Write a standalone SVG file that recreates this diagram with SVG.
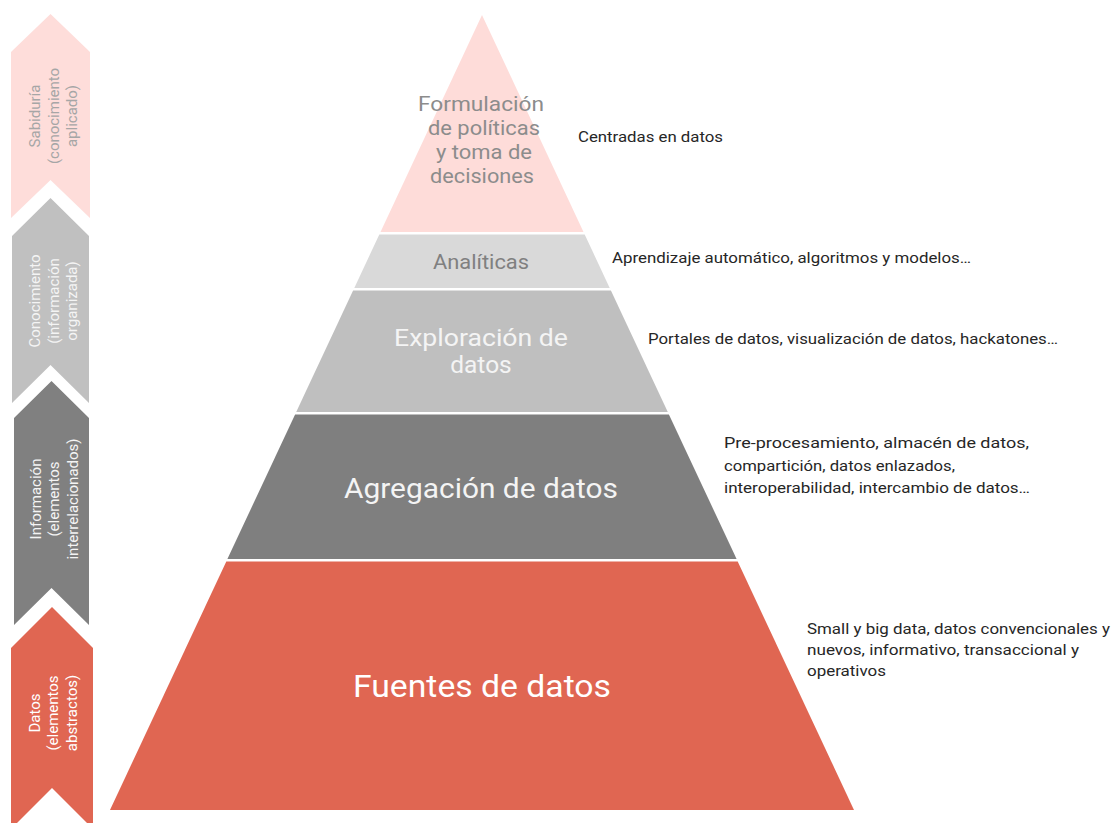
<svg xmlns="http://www.w3.org/2000/svg" width="1113" height="823" viewBox="0 0 1113 823">
<style>
text { font-family: Roboto, "Liberation Sans", sans-serif; }
.lbl { font-size: 15px; text-anchor: middle; }
.pyr { text-anchor: middle; }
.note { font-size: 15.5px; fill: #262626; }
</style>
<rect width="1113" height="823" fill="#ffffff"/>
<g id="levels">
  <g id="level-sabiduria">
    <polygon points="11,52 50.5,14 90,52 90,218 50.5,180 11,218" fill="#FEDDDA"/>
    <text class="lbl" fill="#A6A6A6" transform="translate(0,116) rotate(-90)"><tspan x="0" y="40">Sabiduría</tspan><tspan x="0" y="58.5">(conocimiento</tspan><tspan x="0" y="77">aplicado)</tspan></text>
  </g>
  <g id="level-conocimiento">
    <polygon points="12,236 50.5,198 89,236 89,403 50.5,365 12,403" fill="#C0C0C0"/>
    <text class="lbl" fill="#F4F4F4" transform="translate(0,301) rotate(-90)"><tspan x="0" y="40">Conocimiento</tspan><tspan x="0" y="58.5">(información</tspan><tspan x="0" y="77">organizada)</tspan></text>
  </g>
  <g id="level-informacion">
    <polygon points="14,418 51.5,381 89,418 89,625 51.5,588 14,625" fill="#808080"/>
    <text class="lbl" fill="#F4F4F4" transform="translate(0,499) rotate(-90)"><tspan x="0" y="41">Información</tspan><tspan x="0" y="59">(elementos</tspan><tspan x="0" y="77.5">interrelacionados)</tspan></text>
  </g>
  <g id="level-datos">
    <polygon points="11,648 52,607 93,648 93,829 52,788 11,829" fill="#E06652"/>
    <text class="lbl" fill="#FFFFFF" transform="translate(0,713) rotate(-90)"><tspan x="0" y="39.5">Datos</tspan><tspan x="0" y="58">(elementos</tspan><tspan x="0" y="76.5">abstractos)</tspan></text>
  </g>
</g>
<g id="pyramid">
  <g id="layer-formulacion">
    <polygon points="482,15 583.5,232 380.5,232" fill="#FEDCD9"/>
    <text class="pyr" fill="#8C8C8C" font-size="20.5"><tspan x="481" y="111" textLength="126" lengthAdjust="spacingAndGlyphs">Formulación</tspan><tspan x="484" y="135" textLength="112" lengthAdjust="spacingAndGlyphs">de políticas</tspan><tspan x="484" y="159" textLength="96" lengthAdjust="spacingAndGlyphs">y toma de</tspan><tspan x="482" y="183" textLength="104" lengthAdjust="spacingAndGlyphs">decisiones</tspan></text>
  </g>
  <g id="layer-analiticas">
    <polygon points="379.3,234.5 584.7,234.5 609.7,288 354.3,288" fill="#D9D9D9"/>
    <text class="pyr" fill="#808080" font-size="20.5" x="481" y="269" textLength="96" lengthAdjust="spacingAndGlyphs">Analíticas</text>
  </g>
  <g id="layer-exploracion">
    <polygon points="353.1,290.5 610.9,290.5 667.8,412 296.2,412" fill="#BFBFBF"/>
    <text class="pyr" fill="#F4F4F4" font-size="24.5"><tspan x="481" y="346" textLength="174" lengthAdjust="spacingAndGlyphs">Exploración de</tspan><tspan x="481" y="373">datos</tspan></text>
  </g>
  <g id="layer-agregacion">
    <polygon points="295.1,414.5 668.9,414.5 736.6,559 227.4,559" fill="#7F7F7F"/>
    <text class="pyr" fill="#F4F4F4" font-size="28" x="481" y="498" textLength="274" lengthAdjust="spacingAndGlyphs">Agregación de datos</text>
  </g>
  <g id="layer-fuentes">
    <polygon points="226.3,561.5 737.7,561.5 854,810 110,810" fill="#E06652"/>
    <text class="pyr" fill="#FFFFFF" font-size="31" x="482" y="697" textLength="258" lengthAdjust="spacingAndGlyphs">Fuentes de datos</text>
  </g>
</g>
<g id="notes">
  <text class="note" x="578" y="142" textLength="145" lengthAdjust="spacingAndGlyphs">Centradas en datos</text>
  <text class="note" x="612" y="263" textLength="359" lengthAdjust="spacingAndGlyphs">Aprendizaje automático, algoritmos y modelos…</text>
  <text class="note" x="648" y="344" textLength="410" lengthAdjust="spacingAndGlyphs">Portales de datos, visualización de datos, hackatones…</text>
  <text class="note"><tspan x="724" y="448" textLength="305" lengthAdjust="spacingAndGlyphs">Pre-procesamiento, almacén de datos,</tspan><tspan x="724" y="470.5" textLength="231" lengthAdjust="spacingAndGlyphs">compartición, datos enlazados,</tspan><tspan x="724" y="493" textLength="306" lengthAdjust="spacingAndGlyphs">interoperabilidad, intercambio de datos…</tspan></text>
  <text class="note"><tspan x="807" y="634" textLength="303" lengthAdjust="spacingAndGlyphs">Small y big data, datos convencionales y</tspan><tspan x="807" y="655" textLength="272" lengthAdjust="spacingAndGlyphs">nuevos, informativo, transaccional y</tspan><tspan x="807" y="676" textLength="79" lengthAdjust="spacingAndGlyphs">operativos</tspan></text>
</g>
</svg>
